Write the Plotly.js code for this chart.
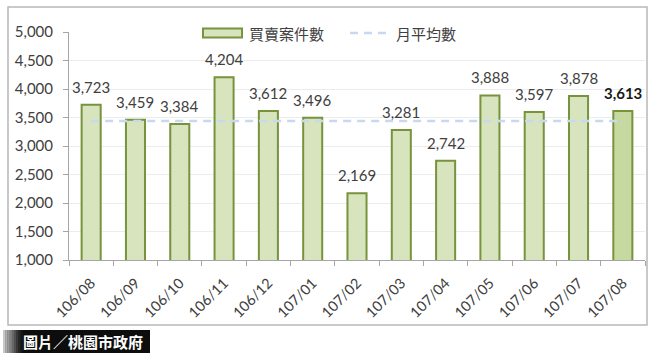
<!DOCTYPE html>
<html>
<head>
<meta charset="utf-8">
<script src="https://cdn.plot.ly/plotly-3.0.1.min.js"></script>
<style>
html,body{margin:0;padding:0;background:#fff;}
#chart{width:655px;height:357px;}
</style>
</head>
<body>
<div id="chart"></div>
<script>
const months = ["106/08","106/09","106/10","106/11","106/12","107/01","107/02","107/03","107/04","107/05","107/06","107/07","107/08"];
const cases = [3723,3459,3384,4204,3612,3496,2169,3281,2742,3888,3597,3878,3613];
const monthlyAvg = 3440;
const yTicks = [1000,1500,2000,2500,3000,3500,4000,4500,5000];
const seriesName = "買賣案件數";
const avgName = "月平均數";
const credit = "圖片／桃園市政府";

const n = cases.length;
const barFill = cases.map((v,i)=> i===n-1 ? "#c6d9a0" : "#d7e4bd");

const bar = {
  type:"bar", x:months, y:cases, name:seriesName,
  marker:{color:barFill, line:{color:"#77933c", width:2}},
  hoverinfo:"skip"
};
const avg = {
  type:"scatter", mode:"lines", x:months, y:months.map(()=>monthlyAvg), name:avgName,
  line:{color:"#c6d9f1", width:2.5, dash:"8px,6px"}, hoverinfo:"skip"
};

// paper coordinate helpers (plot area: x 69..645, y 32..260)
const px = v => (v-69)/576;
const py = v => (260-v)/228;

const shapes = [
  {type:"rect", xref:"paper", yref:"paper", x0:px(8), x1:px(647), y0:py(325), y1:py(7),
   line:{color:"#b8b8b8", width:1.5}, fillcolor:"rgba(0,0,0,0)", layer:"below"},
  // legend swatches
  {type:"rect", xref:"paper", yref:"paper", x0:px(203), x1:px(242), y0:py(37.5), y1:py(28.5),
   line:{color:"#77933c", width:2}, fillcolor:"#d7e4bd"},
  {type:"line", xref:"paper", yref:"paper", x0:px(350), x1:px(390), y0:py(33), y1:py(33),
   line:{color:"#c6d9f1", width:2.5, dash:"8px,6px"}},
  // credit box
  {type:"rect", xref:"paper", yref:"paper", x0:px(3), x1:px(150), y0:py(353), y1:py(330),
   line:{width:0}, fillcolor:"#0d0d0d"}
];
const grad = ["#c8c8c8","#b0b0b0","#989898","#808080","#686868","#505050","#3a3a3a","#262626","#161616"];
grad.forEach((c,i)=>{
  shapes.push({type:"rect", xref:"paper", yref:"paper", x0:px(3+i*2.2), x1:px(3+(i+1)*2.2+0.3),
    y0:py(353), y1:py(330), line:{width:0}, fillcolor:c});
});

const cjk = "'Noto Sans CJK TC', 'Noto Sans CJK SC', sans-serif";
const latin = "Lato, 'Open Sans', sans-serif";
const annotations = [
  {xref:"paper", yref:"paper", x:px(247), y:py(33), xanchor:"left", yanchor:"middle",
   text:seriesName, showarrow:false, font:{family:cjk, size:15, color:"#404040"}},
  {xref:"paper", yref:"paper", x:px(394), y:py(33), xanchor:"left", yanchor:"middle",
   text:avgName, showarrow:false, font:{family:cjk, size:15, color:"#404040"}},
  {xref:"paper", yref:"paper", x:px(21), y:py(341.5), xanchor:"left", yanchor:"middle",
   text:"<b>"+credit+"</b>", showarrow:false, font:{family:cjk, size:15, color:"#ffffff"}}
];
cases.forEach((v,i)=>{
  const s = v.toLocaleString("en-US");
  annotations.push({x:months[i], y:v, xref:"x", yref:"y", xanchor:"center", yanchor:"bottom",
    yshift:7, showarrow:false, text: i===n-1 ? "<b>"+s+"</b>" : s,
    font:{family:latin, size:15, color: i===n-1 ? "#1a1a1a" : "#404040"}});
});

const layout = {
  width:655, height:357,
  margin:{l:69, r:10, t:32, b:97, pad:0},
  paper_bgcolor:"#ffffff", plot_bgcolor:"#ffffff",
  showlegend:false,
  bargap:0.57,
  font:{family:latin, color:"#404040"},
  xaxis:{type:"category", tickangle:-45, tickson:"boundaries", ticks:"outside", ticklen:5,
    tickcolor:"#a6a6a6", showline:true, linecolor:"#a6a6a6", linewidth:1, showgrid:false,
    ticklabelstandoff:8,
    tickfont:{size:14.5, color:"#404040"}, fixedrange:true},
  yaxis:{range:[1000,5000], tickvals:yTicks, ticktext:yTicks.map(v=>v.toLocaleString("en-US")),
    ticks:"outside", ticklen:5, tickcolor:"#a6a6a6", showline:true, linecolor:"#a6a6a6", linewidth:1,
    gridcolor:"#ececec", gridwidth:1, zeroline:false, ticklabelstandoff:7,
    tickfont:{size:15, color:"#404040"}, fixedrange:true},
  shapes:shapes,
  annotations:annotations
};

Plotly.newPlot("chart", [bar, avg], layout, {displayModeBar:false, staticPlot:true});
</script>
</body>
</html>
